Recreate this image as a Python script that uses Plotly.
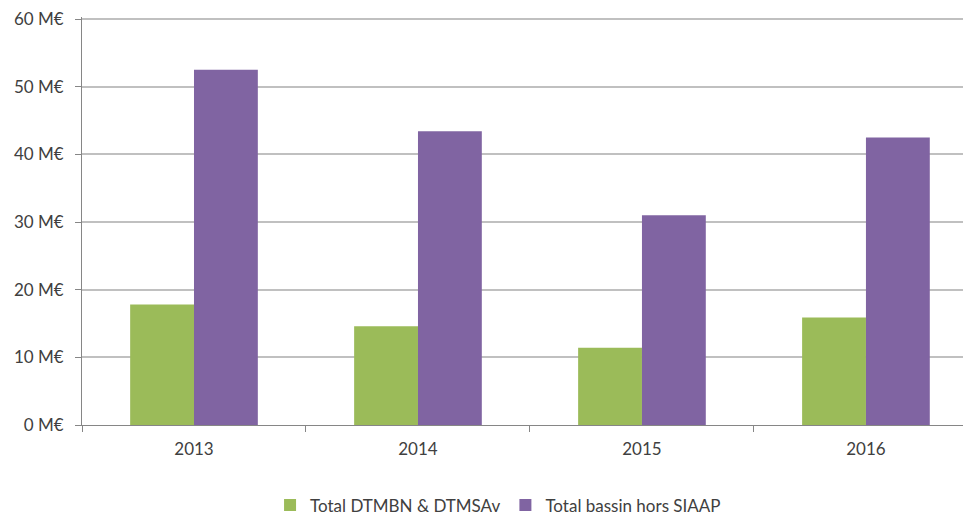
import plotly.graph_objects as go

years = ["2013", "2014", "2015", "2016"]
dtmbn = [17.8, 14.6, 11.4, 15.9]
bassin = [52.5, 43.4, 31.0, 42.5]
y_ticks = [0, 10, 20, 30, 40, 50, 60]
y_labels = [f"{v} M€" for v in y_ticks]

font = dict(family="Lato, Open Sans, sans-serif", size=17, color="#404040")

fig = go.Figure()
fig.add_trace(go.Bar(x=years, y=dtmbn, name="Total DTMBN & DTMSAv",
                     marker=dict(color="#9BBB59", line=dict(width=0))))
fig.add_trace(go.Bar(x=years, y=bassin, name="Total bassin hors SIAAP",
                     marker=dict(color="#8064A2", line=dict(width=0))))

fig.update_layout(
    width=963, height=516,
    margin=dict(l=74, r=0, t=9, b=99),
    paper_bgcolor="white", plot_bgcolor="white",
    barmode="group", bargap=0.43, bargroupgap=0,
    font=font,
    showlegend=True,
    legend=dict(orientation="h", x=0.468, xanchor="center", y=-0.197, yanchor="middle",
                font=font, itemsizing="constant", traceorder="normal",
                itemwidth=30, tracegroupgap=0),
    xaxis=dict(type="category", range=[-0.5, 3.469], showgrid=False, automargin=False,
               showline=True, linecolor="#868686", linewidth=1,
               ticks="outside", tickson="boundaries", ticklen=6, tickcolor="#868686",
               tickfont=font, ticklabelstandoff=9),
    yaxis=dict(range=[0, 60.3], tickvals=y_ticks, ticktext=y_labels, automargin=False,
               showgrid=True, gridcolor="#C0C0C0", gridwidth=1.5,
               showline=True, linecolor="#868686", linewidth=1,
               ticks="outside", ticklen=6, tickcolor="#868686",
               tickfont=font, zeroline=False, ticklabelstandoff=8,
               ticklabeloverflow="allow"),
)

fig.write_html("out.html")
